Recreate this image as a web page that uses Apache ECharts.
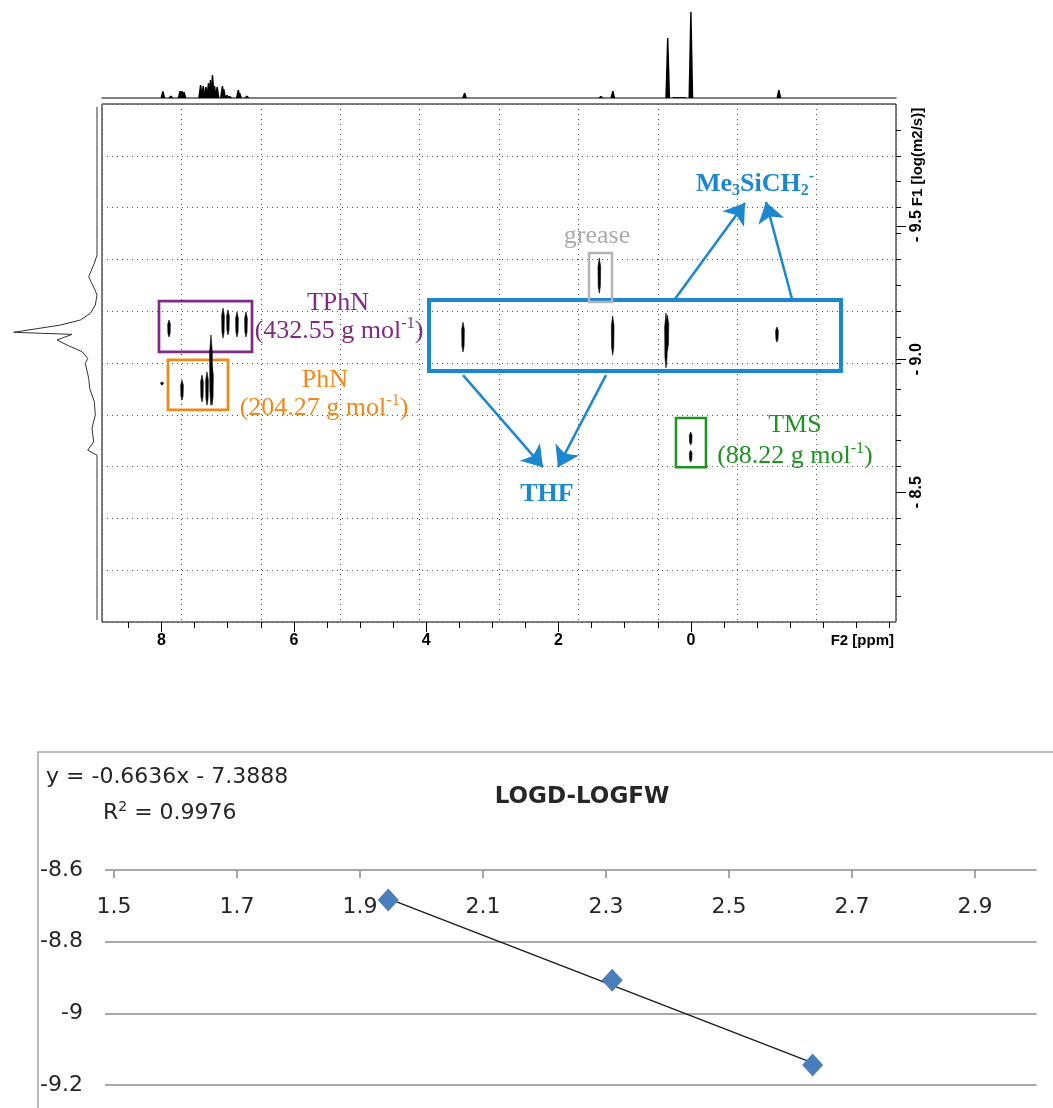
<!DOCTYPE html>
<html><head><meta charset="utf-8">
<script src="https://cdn.jsdelivr.net/npm/echarts@6/dist/echarts.min.js"></script>
<style>html,body{margin:0;padding:0;background:#fff}#c{width:1053px;height:1108px}</style>
</head><body><div id="c"></div>
<script>
// ================= DATA =================
// DOSY F2 axis (ppm) tick labels and minor ticks
const f2TickLabels = [8, 6, 4, 2, 0];
const f2MinorTicks = [8.5, 8, 7.5, 7, 6.5, 6, 5.5, 5, 4.5, 4, 3.5, 3, 2.5, 2, 1.5, 1, 0.5, 0, -0.5, -1, -1.5, -2, -2.5, -3];
// DOSY F1 axis (log D) tick labels
const f1TickLabels = [-9.5, -9.0, -8.5];

// 1D 1H projection on top: peak positions (ppm) and heights
const specPpm = [7.98, 7.86, 7.72, 7.69, 7.66, 7.41, 7.37, 7.33, 7.29, 7.26, 7.23, 7.20, 7.16, 7.08, 7.06, 7.01, 6.97, 6.84, 6.82, 6.71, 3.42, 1.36, 1.18, 0.35, 0.25, 0.20, 0.15, 0.10, 0.00, -1.33];
const specInt = [6.7, 2.3, 7, 7, 6, 13, 12, 11, 15, 18, 23, 12, 11, 12, 9, 3, 2, 8, 5, 2.3, 5, 2, 7, 60, 1, 1, 1, 1, 86, 8];

// DOSY cross peaks: chemical shift (ppm), log D top / bottom of each contour
const spotPpm    = [3.444, 1.384, 1.182, 0.376, 0.355, -1.301, 0.003, 0.003, 7.887, 7.071, 6.996, 6.860, 6.724, 7.253, 7.691, 7.389, 7.313, 7.238, 7.993];
const spotTop    = [-9.139, -9.380, -9.162, -9.173, -9.165, -9.121, -8.726, -8.658, -9.147, -9.192, -9.185, -9.177, -9.177, -9.091, -8.921, -8.940, -8.952, -8.978, -8.914];
const spotBottom = [-9.027, -9.248, -9.015, -8.967, -9.030, -9.064, -8.677, -8.613, -9.083, -9.079, -9.091, -9.083, -9.083, -8.827, -8.846, -8.839, -8.827, -8.827, -8.903];

// F1 (diffusion) projection on the left: log D and intensity
const f1LogD = [-9.948, -9.391, -9.360, -9.310, -9.291, -9.266, -9.241, -9.203, -9.172, -9.147, -9.128, -9.101, -9.093, -9.072, -9.053, -9.028, -9.003, -8.984, -8.928, -8.890, -8.840, -8.790, -8.740, -8.689, -8.658, -8.639, -8.019];
const f1Int  = [0, 0, 2.7, 8.3, 6, 2.7, 0, 1.7, 6.7, 16.7, 36.7, 83.3, 25, 40, 30, 15, 9.3, 11.7, 8.3, 7.3, 2.7, 1.7, 5, 3.3, 9.3, 0, 0];

// LOGD vs LOGFW calibration
const fwTickLabels = [1.5, 1.7, 1.9, 2.1, 2.3, 2.5, 2.7, 2.9];
const logFW   = [1.946, 2.310, 2.636];
const logDiff = [-8.684, -8.908, -9.144];
const trendX  = [1.946, 2.636];
const trendY  = [-8.680, -9.138];

// ================= STYLE / LAYOUT =================
const PURPLE = '#7F2B85', ORANGE = '#F0891C', BLUE = '#1A87CF', GREYT = '#ABABAB', GREYB = '#B4B4B4', GREEN = '#1F9320';
const SERIF = '"Liberation Serif", "Times New Roman", serif';
const SANS = '"Liberation Sans", Arial, sans-serif';
const XL = 'DejaVu Sans';
const X_MIN = -3.1, X_MAX = 8.9, Y_MIN = -9.959, Y_MAX = -8.012;
const f1Minor = [];
for (let k = 1; k < 20; k++) f1Minor.push(Y_MIN + k * (Y_MAX - Y_MIN) / 20);

const spotData = spotPpm.map((p, i) => [p, spotTop[i], spotBottom[i]]);
const specData = specPpm.map((p, i) => [p, specInt[i]]);
const f1Data = f1LogD.map((v, i) => [f1Int[i], v]);
const fwData = logFW.map((x, i) => [x, logDiff[i]]);
const trendData = trendX.map((x, i) => [x, trendY[i]]);

function box(p1, p2, color, w) {
  return [{ coord: p1, itemStyle: { color: 'rgba(0,0,0,0)', borderColor: color, borderWidth: w } }, { coord: p2 }];
}
const boxes = [
  box([8.039, -9.218], [6.633, -9.027], PURPLE, 2.7),
  box([7.903, -8.997], [6.996, -8.809], ORANGE, 2.7),
  box([3.958, -9.222], [-2.268, -8.955], BLUE, 4),
  box([1.540, -9.399], [1.192, -9.215], GREYB, 2.5),
  box([0.226, -8.779], [-0.228, -8.594], GREEN, 2.5)
];
const arrows = [
  [{ coord: [0.240, -9.226] }, { coord: [-0.818, -9.587] }],
  [{ coord: [-1.528, -9.226] }, { coord: [-1.135, -9.591] }],
  [{ coord: [3.444, -8.940] }, { coord: [2.235, -8.594] }],
  [{ coord: [1.283, -8.940] }, { coord: [2.009, -8.594] }]
];

// tapered contour spot
function renderSpot(params, api) {
  const a = api.coord([api.value(0), api.value(1)]);
  const b = api.coord([api.value(0), api.value(2)]);
  const x = a[0], y1 = Math.min(a[1], b[1]), y2 = Math.max(a[1], b[1], y1 + 2);
  const h = y2 - y1, w = 1.35;
  return { type: 'polygon', shape: { points: [[x, y1], [x + w, y1 + h * 0.25], [x + w * 0.8, y1 + h * 0.8], [x, y2], [x - w * 0.8, y1 + h * 0.8], [x - w, y1 + h * 0.25]] },
    style: { fill: '#000', stroke: '#000', lineWidth: 0.6 } };
}
// 1D peak with small base flare
function renderPeak(params, api) {
  const top = api.coord([api.value(0), api.value(1)]);
  const base = api.coord([api.value(0), 0]);
  const x = top[0];
  return { type: 'polygon', shape: { points: [[x - 2.4, base[1]], [x - 0.7, top[1]], [x + 0.7, top[1]], [x + 2.4, base[1]]] }, style: { fill: '#000' } };
}

const axFont = { fontFamily: SANS, fontWeight: 'bold', fontSize: 16, color: '#000' };
const noLine = { show: false, onZero: false };

const chart = echarts.init(document.getElementById('c'));
const option = {
  animation: false,
  grid: [
    { left: 102, top: 104, width: 794, height: 518, show: true, borderColor: '#000', borderWidth: 1, backgroundColor: 'rgba(0,0,0,0)' },
    { left: 102, top: 8, width: 794, height: 90 },
    { left: 5, top: 104, width: 92, height: 518 },
    { left: 105, right: 16.5, top: 870, bottom: 23 }
  ],
  xAxis: [
    { gridIndex: 0, type: 'value', min: X_MIN, max: X_MAX, inverse: true, position: 'bottom', axisLine: noLine, splitLine: { show: false },
      axisTick: { show: true, length: 6, customValues: f2MinorTicks, lineStyle: { color: '#000' } },
      axisLabel: Object.assign({ show: true, customValues: f2TickLabels, margin: 11, formatter: v => String(v) }, axFont) },
    { gridIndex: 0, type: 'value', min: X_MIN, max: X_MAX, inverse: true, position: 'bottom', axisLine: noLine, splitLine: { show: false },
      axisLabel: { show: false }, axisTick: { show: true, length: 10, customValues: f2TickLabels, lineStyle: { color: '#000' } } },
    { gridIndex: 0, type: 'value', min: 0, max: 10, interval: 1, position: 'top', axisLine: noLine, axisTick: { show: false }, axisLabel: { show: false },
      splitLine: { show: true, lineStyle: { color: '#555', type: [1, 4], width: 1 } } },
    { gridIndex: 1, type: 'value', min: X_MIN, max: X_MAX, inverse: true, position: 'bottom',
      axisLine: { show: true, onZero: false, lineStyle: { color: '#555', width: 1.5 } }, axisTick: { show: false }, axisLabel: { show: false }, splitLine: { show: false } },
    { gridIndex: 2, type: 'value', min: 0, max: 92, inverse: true, show: false, axisLine: noLine },
    { gridIndex: 3, type: 'value', min: 1.48537, max: 3.0, position: 'top', axisLine: noLine, splitLine: { show: false },
      axisTick: { show: true, inside: true, length: 8, customValues: fwTickLabels, lineStyle: { color: '#8C8C8C', width: 1.5 } },
      axisLabel: { show: true, inside: true, customValues: fwTickLabels, margin: 26, formatter: v => v.toFixed(1), color: '#262626', fontFamily: XL, fontSize: 22 } }
  ],
  yAxis: [
    { gridIndex: 0, type: 'value', min: Y_MIN, max: Y_MAX, inverse: true, position: 'right', axisLine: noLine, splitLine: { show: false },
      axisTick: { show: true, length: 5, customValues: f1Minor, lineStyle: { color: '#000' } },
      axisLabel: Object.assign({ show: true, customValues: f1TickLabels, rotate: 90, margin: 13, formatter: v => '- ' + Math.abs(v).toFixed(1) }, axFont) },
    { gridIndex: 0, type: 'value', min: Y_MIN, max: Y_MAX, inverse: true, position: 'right', axisLine: noLine, splitLine: { show: false },
      axisLabel: { show: false }, axisTick: { show: true, length: 10, customValues: f1TickLabels, lineStyle: { color: '#000' } } },
    { gridIndex: 0, type: 'value', min: 0, max: 10, interval: 1, position: 'left', axisLine: noLine, axisTick: { show: false }, axisLabel: { show: false },
      splitLine: { show: true, lineStyle: { color: '#555', type: [1, 4], width: 1 } } },
    { gridIndex: 1, type: 'value', min: 0, max: 90, show: false, axisLine: noLine },
    { gridIndex: 2, type: 'value', min: Y_MIN, max: Y_MAX, inverse: true, show: false, axisLine: noLine },
    { gridIndex: 3, type: 'value', min: -9.2, max: -8.6, interval: 0.2, axisLine: noLine, axisTick: { show: false },
      axisLabel: { margin: 22, formatter: v => String(Math.round(v * 10) / 10), color: '#262626', fontFamily: XL, fontSize: 22 },
      splitLine: { show: true, lineStyle: { color: '#8C8C8C', width: 1.5 } } }
  ],
  series: [
    { type: 'custom', name: 'spots', xAxisIndex: 0, yAxisIndex: 0, data: spotData, encode: { x: 0, y: [1, 2] }, renderItem: renderSpot, z: 5, silent: true },
    { type: 'line', name: 'annot', xAxisIndex: 0, yAxisIndex: 0, data: [], symbol: 'none', silent: true,
      markArea: { silent: true, label: { show: false }, data: boxes },
      markLine: { silent: true, symbol: ['none', 'arrow'], symbolSize: 20, label: { show: false },
        lineStyle: { color: BLUE, width: 2.5, type: 'solid' }, emphasis: { disabled: true }, data: arrows } },
    { type: 'custom', name: '1H', xAxisIndex: 3, yAxisIndex: 3, data: specData, encode: { x: 0, y: 1 }, renderItem: renderPeak, silent: true },
    { type: 'line', name: 'F1', xAxisIndex: 4, yAxisIndex: 4, data: f1Data, symbol: 'none', lineStyle: { color: '#333', width: 1 }, silent: true },
    { type: 'line', name: 'trend', xAxisIndex: 5, yAxisIndex: 5, data: trendData, symbol: 'none', lineStyle: { color: '#1a1a1a', width: 1.3 }, silent: true },
    { type: 'scatter', name: 'LOGD', xAxisIndex: 5, yAxisIndex: 5, data: fwData, symbol: 'diamond', symbolSize: [21, 23], itemStyle: { color: '#4A7EBB', opacity: 1 }, z: 5, silent: true }
  ]
};
chart.setOption(option);

// ---- annotation texts placed in data coordinates ----
function rich(c) {
  return {
    a: { fontFamily: SERIF, fontSize: 26, lineHeight: 30, fill: c },
    s: { fontFamily: SERIF, fontSize: 16, lineHeight: 16, verticalAlign: 'top', fill: c },
    b: { fontFamily: SERIF, fontSize: 26, fontWeight: 'bold', lineHeight: 30, fill: c },
    bs: { fontFamily: SERIF, fontSize: 16, fontWeight: 'bold', lineHeight: 16, verticalAlign: 'bottom', fill: c },
    bp: { fontFamily: SERIF, fontSize: 16, fontWeight: 'bold', lineHeight: 16, verticalAlign: 'top', fill: c }
  };
}
const notes = [
  { t: '{a|TPhN}', p: [5.333, -9.211], c: PURPLE },
  { t: '{a|(432.55 g mol}{s|-1}{a|)}', p: [5.318, -9.106], c: PURPLE },
  { t: '{a|PhN}', p: [5.530, -8.921], c: ORANGE },
  { t: '{a|(204.27 g mol}{s|-1}{a|)}', p: [5.545, -8.816], c: ORANGE },
  { t: '{a|grease}', p: [1.419, -9.463], c: GREYT },
  { t: '{b|Me}{bs|3}{b|SiCH}{bs|2}{bp|-}', p: [-0.969, -9.658], c: BLUE },
  { t: '{b|THF}', p: [2.175, -8.493], c: BLUE },
  { t: '{a|TMS}', p: [-1.573, -8.752], c: GREEN },
  { t: '{a|(88.22 g mol}{s|-1}{a|)}', p: [-1.573, -8.636], c: GREEN }
];
const graphics = notes.map(n => {
  const q = chart.convertToPixel({ seriesIndex: 0 }, n.p);
  return { type: 'text', x: q[0], y: q[1], silent: true, z: 20,
    style: { text: n.t, align: 'center', verticalAlign: 'middle', rich: rich(n.c) } };
});
graphics.push(
  { type: 'text', x: 894, y: 641, silent: true, style: { text: 'F2 [ppm]', align: 'right', verticalAlign: 'middle', font: 'bold 15px ' + SANS, fill: '#000' } },
  { type: 'text', x: 918, y: 157, rotation: Math.PI / 2, silent: true, style: { text: 'F1 [log(m2/s)]', align: 'center', verticalAlign: 'middle', font: 'bold 15px ' + SANS, fill: '#000' } },
  { type: 'rect', silent: true, shape: { x: 38, y: 752, width: 1100, height: 500 }, style: { fill: 'none', stroke: '#A6A6A6', lineWidth: 1.5 } },
  { type: 'text', x: 46, y: 777, silent: true, style: { text: 'y = -0.6636x - 7.3888', align: 'left', verticalAlign: 'middle', font: '22px "DejaVu Sans"', fill: '#262626' } },
  { type: 'text', x: 103, y: 813, silent: true, style: { text: '{a|R}{s|2}{a| = 0.9976}', align: 'left', verticalAlign: 'middle',
      rich: { a: { fontFamily: XL, fontSize: 22, lineHeight: 26, fill: '#262626' }, s: { fontFamily: XL, fontSize: 14, lineHeight: 14, verticalAlign: 'top', fill: '#262626' } } } },
  { type: 'text', x: 582, y: 797, silent: true, style: { text: 'LOGD-LOGFW', align: 'center', verticalAlign: 'middle', font: 'bold 23px "DejaVu Sans"', fill: '#262626' } }
);
chart.setOption({ graphic: graphics });
</script>
</body></html>
